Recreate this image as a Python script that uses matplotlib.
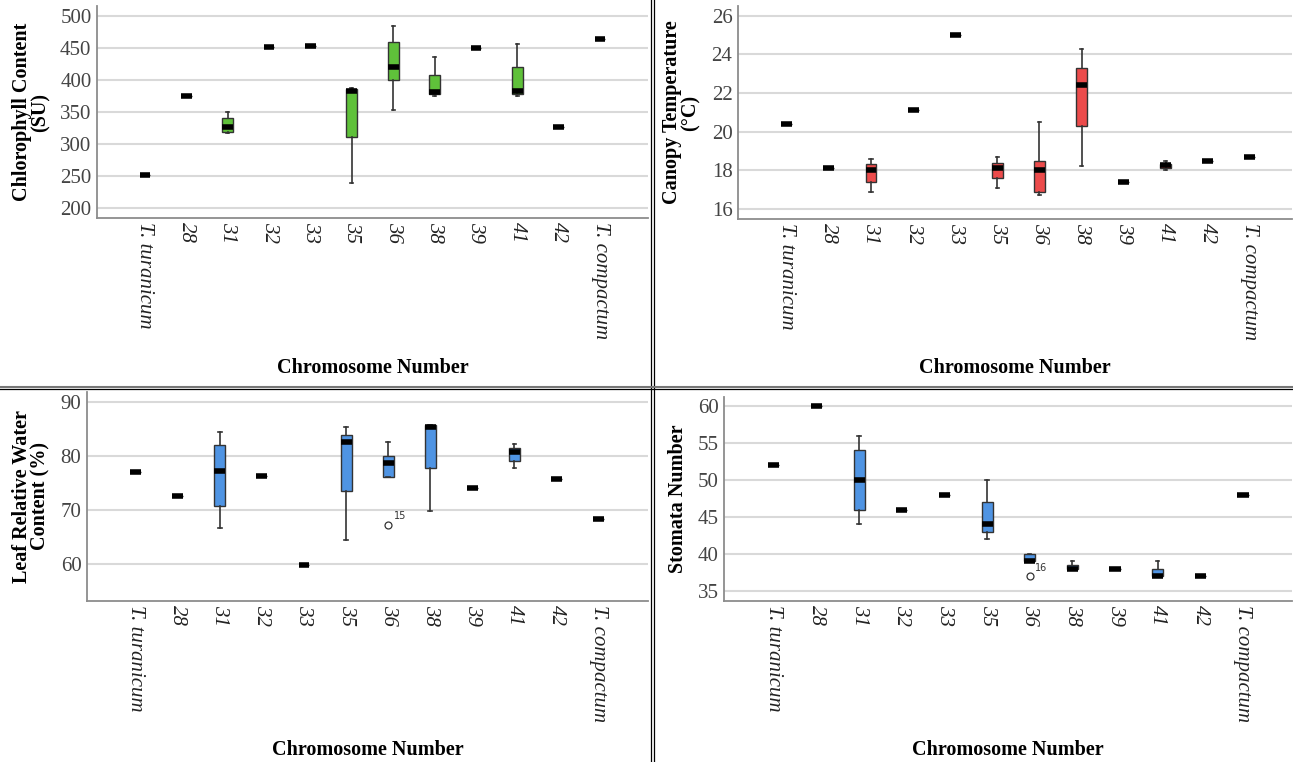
import matplotlib
matplotlib.use('Agg')
import matplotlib.pyplot as plt
from matplotlib.lines import Line2D

plt.rcParams['font.family'] = ['Liberation Serif', 'DejaVu Serif']

cats = ['T. turanicum', '28', '31', '32', '33', '35', '36', '38', '39', '41', '42', 'T. compactum']

# chlorophyll content (SU)
chl_lo = [252, 375, 317, 452, 454, 239, 353, 375, 450, 375, 327, 464]
chl_q1 = [252, 375, 318, 452, 454, 311, 400, 378, 450, 378, 327, 464]
chl_med = [252, 375, 326, 452, 454, 383, 421, 382, 450, 383, 327, 464]
chl_q3 = [252, 375, 340, 452, 454, 386, 459, 408, 450, 420, 327, 464]
chl_hi = [252, 375, 350, 452, 454, 388, 485, 436, 450, 457, 327, 464]

# canopy temperature (C)
ct_lo = [20.4, 18.1, 16.9, 21.1, 25.0, 17.1, 16.7, 18.2, 17.4, 18.0, 18.5, 18.7]
ct_q1 = [20.4, 18.1, 17.4, 21.1, 25.0, 17.6, 16.9, 20.3, 17.4, 18.1, 18.5, 18.7]
ct_med = [20.4, 18.1, 18.0, 21.1, 25.0, 18.1, 18.0, 22.4, 17.4, 18.25, 18.5, 18.7]
ct_q3 = [20.4, 18.1, 18.3, 21.1, 25.0, 18.4, 18.5, 23.3, 17.4, 18.35, 18.5, 18.7]
ct_hi = [20.4, 18.1, 18.6, 21.1, 25.0, 18.7, 20.5, 24.3, 17.4, 18.5, 18.5, 18.7]

# leaf relative water content (%)
lr_lo = [76.9, 72.5, 66.6, 76.2, 59.7, 64.4, 76.1, 69.8, 74.1, 77.7, 75.6, 68.2]
lr_q1 = [76.9, 72.5, 70.7, 76.2, 59.7, 73.4, 76.1, 77.7, 74.1, 79.1, 75.6, 68.2]
lr_med = [76.9, 72.5, 77.2, 76.2, 59.7, 82.5, 78.7, 85.4, 74.1, 80.7, 75.6, 68.2]
lr_q3 = [76.9, 72.5, 81.9, 76.2, 59.7, 83.8, 79.9, 85.6, 74.1, 81.5, 75.6, 68.2]
lr_hi = [76.9, 72.5, 84.4, 76.2, 59.7, 85.3, 82.5, 85.6, 74.1, 82.2, 75.6, 68.2]
lr_out = {6: (67.2, '15')}

# stomata number
st_lo = [52, 60, 44, 46, 48, 42, 39, 38, 38, 37, 37, 48]
st_q1 = [52, 60, 46, 46, 48, 43, 39, 38, 38, 37, 37, 48]
st_med = [52, 60, 50, 46, 48, 44, 39, 38, 38, 37, 37, 48]
st_q3 = [52, 60, 54, 46, 48, 47, 40, 38.5, 38, 38, 37, 48]
st_hi = [52, 60, 56, 46, 48, 50, 40, 39, 38, 39, 37, 48]
st_out = {6: (37, '16')}

W, H = 1293, 762
fig = plt.figure(figsize=(W / 100, H / 100), dpi=100)


def px_axes(l, t, r, b):
    return fig.add_axes([l / W, 1 - b / H, (r - l) / W, (b - t) / H])


def panel(ax, lo, q1, med, q3, hi, outl, color, ylim, yticks, xlim, ylab, ylab_x):
    stats = []
    for i in range(len(cats)):
        fl = [outl[i][0]] if i in outl else []
        stats.append(dict(whislo=lo[i], q1=q1[i], med=med[i], q3=q3[i], whishi=hi[i], fliers=fl))
    ax.bxp(stats, positions=range(len(cats)), widths=0.26, patch_artist=True,
           capwidths=0.08, manage_ticks=False,
           boxprops=dict(facecolor=color, edgecolor='#333333', linewidth=1),
           medianprops=dict(color='black', linewidth=4, solid_capstyle='butt'),
           whiskerprops=dict(color='#333333', linewidth=1.2),
           capprops=dict(color='#333333', linewidth=1.2),
           flierprops=dict(marker='o', markersize=5, markerfacecolor='white',
                           markeredgecolor='#333333', markeredgewidth=0.9))
    for i, (v, lab) in outl.items():
        ax.annotate(lab, (i, v), xytext=(4, 4), textcoords='offset points',
                    fontsize=7, family='DejaVu Sans', color='#333333')
    ax.set_ylim(*ylim)
    ax.set_xlim(*xlim)
    ax.set_yticks(yticks)
    ax.set_xticks(range(len(cats)))
    ax.set_xticklabels(cats, rotation=270, style='italic', fontsize=15, color='#222222')
    ax.tick_params(axis='y', labelsize=15, labelcolor='#444444', length=0, pad=4)
    ax.tick_params(axis='x', length=0, pad=3)
    ax.grid(axis='y', color='#d9d9d9', linewidth=1.5)
    ax.set_axisbelow(True)
    for s in ['top', 'right']:
        ax.spines[s].set_visible(False)
    for s in ['left', 'bottom']:
        ax.spines[s].set_color('#8c8c8c')
        ax.spines[s].set_linewidth(1.3)
    bb = ax.get_position()
    fig.text(ylab_x / W, bb.y0 + bb.height / 2, ylab, rotation=90, ha='center', va='center',
             fontsize=14.5, fontweight='bold', linespacing=0.9, multialignment='center')


ax1 = px_axes(97, 6, 648, 218)
panel(ax1, chl_lo, chl_q1, chl_med, chl_q3, chl_hi, {}, '#5fc13a',
      (184, 516), range(200, 501, 50), (-1.16, 12.16), 'Chlorophyll Content\n(SU)', 31)

ax2 = px_axes(738, 6, 1292, 219)
panel(ax2, ct_lo, ct_q1, ct_med, ct_q3, ct_hi, {}, '#ec4b4b',
      (15.48, 26.5), range(16, 27, 2), (-1.16, 12.0), 'Canopy Temperature\n(°C)', 681)

ax3 = px_axes(87, 392, 648, 601)
panel(ax3, lr_lo, lr_q1, lr_med, lr_q3, lr_hi, lr_out, '#4f94e3',
      (53.1, 91.8), range(60, 91, 10), (-1.16, 12.18), 'Leaf Relative Water\nContent (%)', 31)

ax4 = px_axes(724, 397, 1292, 601)
panel(ax4, st_lo, st_q1, st_med, st_q3, st_hi, st_out, '#4f94e3',
      (33.65, 61.2), range(35, 61, 5), (-1.17, 12.15), 'Stomata Number', 678)

# x axis titles
for ax, y in [(ax1, 368), (ax2, 368), (ax3, 750), (ax4, 750)]:
    bb = ax.get_position()
    fig.text(bb.x0 + bb.width / 2, 1 - y / H, 'Chromosome Number', ha='center', va='center',
             fontsize=14.5, fontweight='bold')

# panel separators
fig.add_artist(Line2D([651 / W, 651 / W], [0, 1], color='black', linewidth=0.9))
fig.add_artist(Line2D([653.5 / W, 653.5 / W], [0, 1], color='black', linewidth=0.9))
fig.add_artist(Line2D([0, 1], [1 - 386.5 / H, 1 - 386.5 / H], color='#777777', linewidth=1.5))
fig.add_artist(Line2D([0, 1], [1 - 389 / H, 1 - 389 / H], color='black', linewidth=0.9))

fig.savefig('out.png', dpi=100)
